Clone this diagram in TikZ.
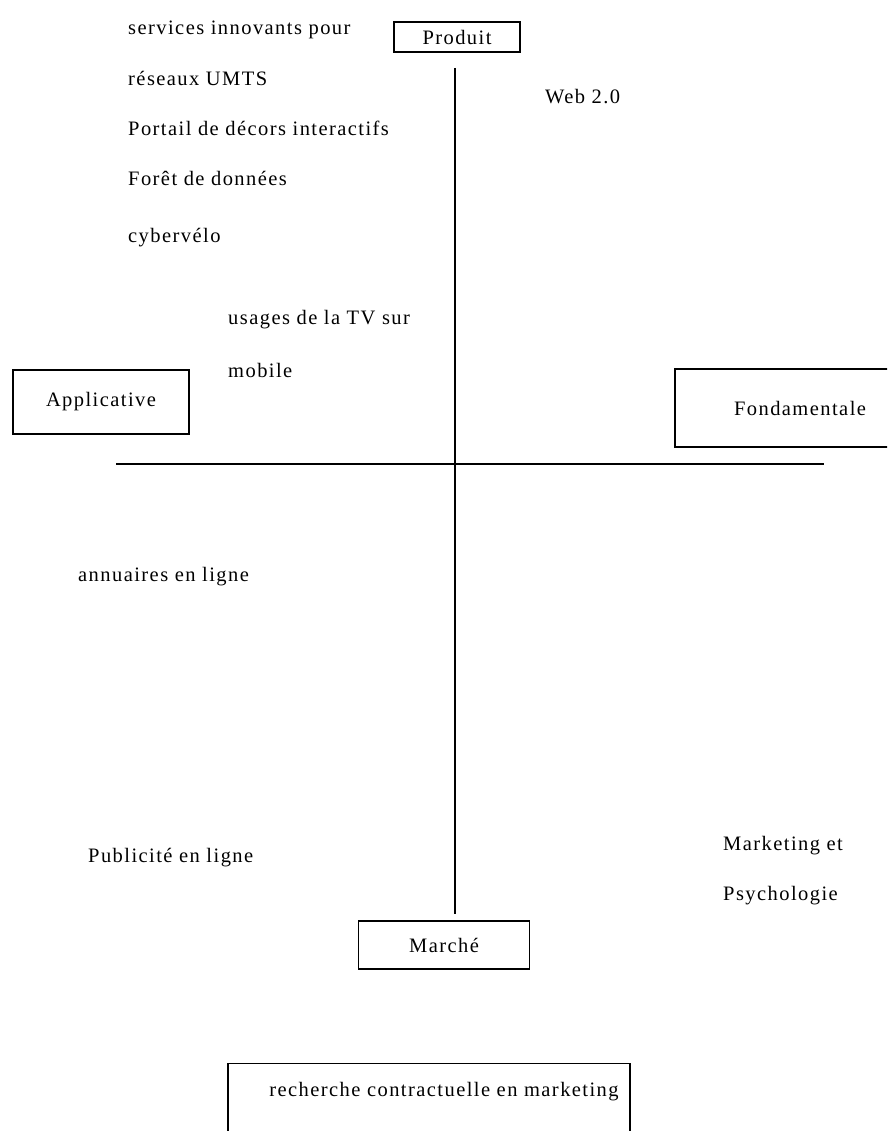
\documentclass[tikz,border=0pt]{standalone}
\usepackage{fontspec}
\setmainfont{Liberation Serif}[LetterSpace=7]
\usepackage{tikz}
\usetikzlibrary{positioning}

\begin{document}
\begin{tikzpicture}[x=1pt,y=-1pt,font=\fontsize{20.5}{24}\selectfont,
	boite/.style={draw,line width=1.3pt,inner sep=0pt},
	mot/.style={anchor=west,inner sep=0pt}]
	% page size of the reference
	\clip (0,0) rectangle (887,1131);
	
	% the two axes
	\coordinate (haut) at (455,68);
	\coordinate (bas) at (455,914);
	\coordinate (gauche) at (116,464);
	\coordinate (droite) at (824,464);
	\draw[line width=1.3pt] (haut) -- (bas);
	\draw[line width=1.3pt] (gauche) -- (droite);
	
	% boxes at the ends of the axes
	\node[boite,minimum width=126,minimum height=30] (produit) at (457,37) {Produit};
	\node[boite,minimum width=176,minimum height=64] (applicative) at (101,402) {Applicative};
	\node[boite,minimum width=250,minimum height=78] (fondamentale) at (800,408) {Fondamentale};
	\node[boite,minimum width=171,minimum height=48] (marche) at (444,945) {Marché};
	\node[boite,minimum width=402,text height=33,text depth=47,anchor=north] (contrat) at (429,1063) {\hspace*{30pt}recherche contractuelle en marketing};
	
	% projects placed in the quadrants
	\node[mot] (services) at (128,30) {services innovants pour};
	\node[mot] (umts) at (128,78) {réseaux UMTS};
	\node[mot] (portail) at (128,128) {Portail de décors interactifs};
	\node[mot] (foret) at (128,178) {Forêt de données};
	\node[mot] (velo) at (128,238) {cybervélo};
	\node[mot] (tv) at (228,320) {usages de la TV sur};
	\node[mot] (mobile) at (228,370) {mobile};
	\node[mot] (web) at (545,97) {Web 2.0};
	\node[mot] (annuaires) at (78,577) {annuaires en ligne};
	\node[mot] (pub) at (88,858) {Publicité en ligne};
	\node[mot] (marketing) at (723,846) {Marketing et};
	\node[mot] (psycho) at (723,896) {Psychologie};
\end{tikzpicture}
\end{document}
